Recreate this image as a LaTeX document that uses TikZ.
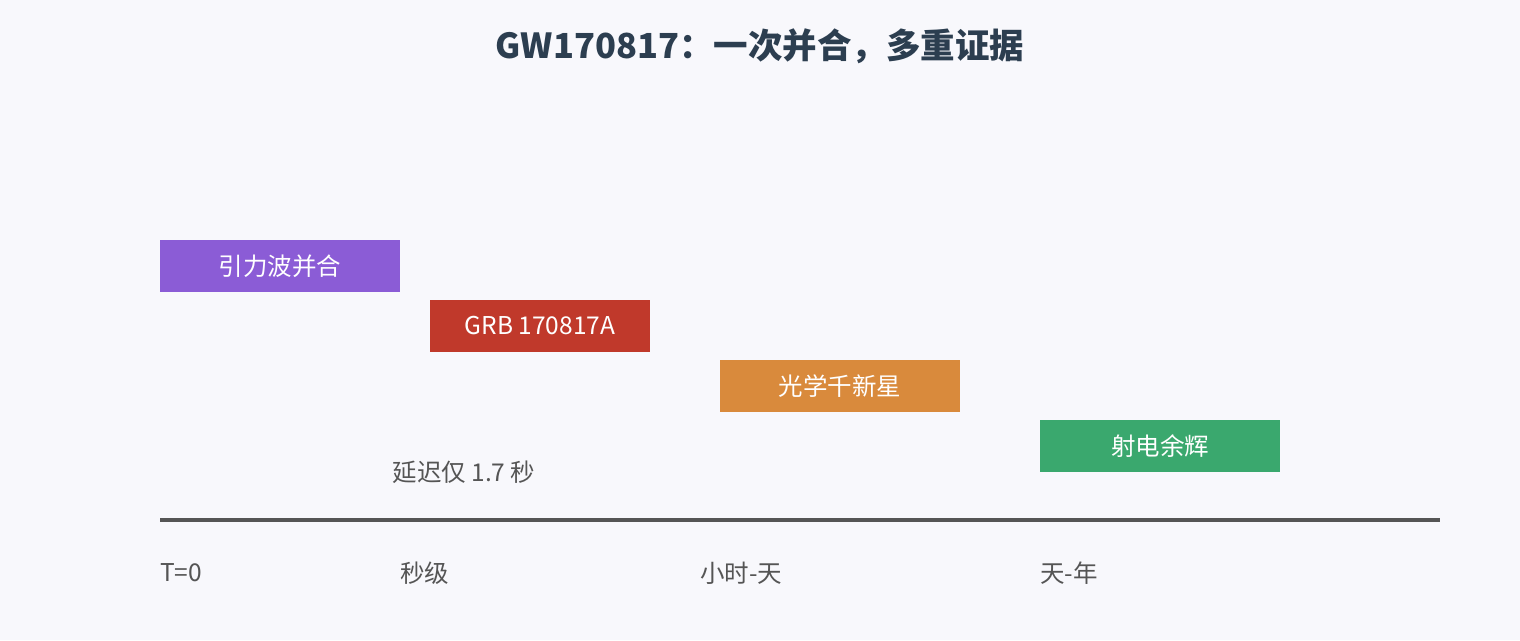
\documentclass[tikz,border=0pt]{standalone}
\usepackage{fontspec}
\usepackage{xcolor}
\usetikzlibrary{positioning}
\newfontfamily\cjk{Noto Sans CJK SC}

\definecolor{bgcol}{HTML}{F8F8FC}
\definecolor{gwcol}{HTML}{8B5CD6}
\definecolor{grbcol}{HTML}{C0392B}
\definecolor{kncol}{HTML}{D98A3C}
\definecolor{radcol}{HTML}{3AA86E}
\definecolor{titlecol}{HTML}{2C3E50}
\definecolor{axiscol}{HTML}{555555}

\tikzset{
  evbox/.style={minimum height=52pt, inner sep=0pt, text=white, font=\cjk\fontsize{24.5}{28}\selectfont},
  ticklab/.style={anchor=west, inner sep=0pt, text=axiscol, font=\cjk\fontsize{24.5}{28}\selectfont}
}

\begin{document}
\begin{tikzpicture}[x=1pt, y=1pt]

\fill[bgcol] (0,0) rectangle (1520,640);
\useasboundingbox (0,0) rectangle (1520,640);

% title
\node (title) at (760,594) [text=titlecol, font=\cjk\bfseries\fontsize{34.5}{40}\selectfont]
{GW170817：一次并合，多重证据};

% colors
{
\node[evbox, fill=gwcol, minimum width=240pt] (gw) at (280,374) {引力波并合};
\node[evbox, fill=grbcol, minimum width=220pt] (grb) at (540,314) {GRB 170817A};
\node[evbox, fill=kncol, minimum width=240pt] (kn) at (840,254) {光学千新星};
\node[evbox, fill=radcol, minimum width=240pt] (rad) at (1160,194) {射电余辉};
}

\node (delay) at (464,168) [text=axiscol, font=\cjk\fontsize{24.5}{28}\selectfont]
{延迟仅 1.7 秒};

% time axis
\coordinate (tstart) at (160,120);
\coordinate (tend) at (1440,120);
\draw[axiscol, line width=4pt] (tstart)--(tend);

% labellings
{
\node[ticklab] (t0) at (160,67) {T=0};
\node[ticklab] (tsec) at (400,67) {秒级};
\node[ticklab] (thour) at (700,67) {小时-天};
\node[ticklab] (tyear) at (1040,67) {天-年};
}

\end{tikzpicture}
\end{document}
